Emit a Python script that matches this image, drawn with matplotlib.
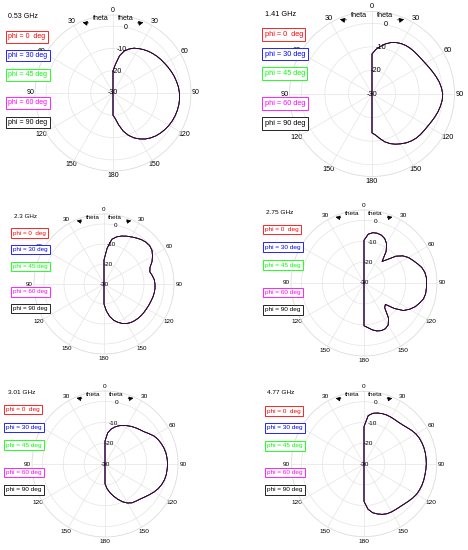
import numpy as np
import matplotlib.pyplot as plt

plt.rcParams['font.family'] = ['Liberation Sans', 'DejaVu Sans']
plt.rcParams['axes.unicode_minus'] = False

W, H = 468, 550
RMIN, RMAX = -30, 5
R_TICKS = [-30, -20, -10, 0]

# pattern sampled every 5 degrees of theta, 0..180 (dB)
THETA = np.arange(0, 181, 5)

FREQS = ["0.53 GHz", "1.41 GHz", "2.3 GHz", "2.75 GHz", "3.01 GHz", "4.77 GHz"]
PHI_LABELS = ["phi = 0  deg", "phi = 30 deg", "phi = 45 deg", "phi = 60 deg", "phi = 90 deg"]
PHI_COLORS = ["#ff0000", "#0000ff", "#00ff00", "#ff00ff", "#000000"]

gain_053 = [-20, -17, -13, -10.5, -9, -7.8, -7, -6.2, -5.5, -4.9, -4.3, -3.8, -3.3,
            -2.7, -2.1, -1.5, -1.0, -0.5, -0.2, 0, 0, -0.1, -0.3, -0.6, -1.0, -1.5,
            -2.1, -2.8, -3.7, -4.8, -6.2, -7.8, -9.8, -12.3, -15.5, -18.5, -20]
gain_141 = [-13, -11, -9.5, -8, -6.8, -5.9, -5.3, -4.9, -4.7, -4.6, -4.5, -4.3, -3.9,
            -3.3, -2.6, -1.8, -1.0, -0.4, 0, -0.1, -0.5, -1.0, -1.6, -2.2, -2.7, -3.0,
            -3.2, -3.5, -4.0, -4.7, -5.6, -6.5, -7.6, -9.0, -10.8, -12.5, -13.5]
gain_230 = [-18, -12, -7.3, -5.6, -4.5, -3.6, -2.8, -1.9, -1.0, -0.4, -0.2, -0.7, -2.0,
            -3.5, -5.5, -6.3, -5.5, -4.8, -4.5, -4.4, -4.5, -4.7, -5.0, -5.2, -5.4, -5.5,
            -5.6, -5.8, -6.1, -6.5, -7.2, -8.2, -9.6, -11.2, -13.5, -16.5, -20]
gain_275 = [-9.5, -6.5, -5.5, -5.3, -5.6, -6.5, -8.3, -11.5, -16.5, -14, -10, -7.3, -5.5,
            -4.2, -2.8, -1.3, -0.4, 0, 0, 0, 0, -0.5, -1.7, -3, -4.8, -7,
            -11, -15.5, -14.6, -9.5, -6.8, -5.8, -5.7, -6.2, -7.2, -8.5, -9.5]
gain_301 = [-19, -15, -13, -11.6, -10.5, -9.6, -8.8, -8, -7.3, -6.6, -5.8, -4.5, -3.0,
            -2.0, -1.3, -0.7, -0.3, -0.1, 0, -0.1, -0.2, -0.5, -1.1, -1.9, -3.0, -4.2,
            -5.3, -6.2, -6.8, -7.3, -8.4, -10, -12, -14, -16, -18, -20.5]
gain_477 = [-12, -6.6, -5.2, -4.6, -4.2, -4.0, -4.0, -4.0, -3.9, -3.5, -2.8, -1.9, -1.1,
            -0.6, -0.3, -0.1, 0, 0, 0, -0.1, -0.2, -0.2, -0.3, -0.5, -0.8, -1.4,
            -2.1, -2.7, -3.1, -3.3, -3.4, -3.6, -4.2, -5.1, -6.2, -8.2, -12]
GAINS = [gain_053, gain_141, gain_230, gain_275, gain_301, gain_477]

ANGLE_LABELS = ["0", "30", "60", "90", "120", "150", "180", "150", "120", "90", "60", "30"]

# layout, in pixels of the 468x550 picture
CENTERS = [(113, 93), (372, 94), (104, 284), (364, 283), (105, 464), (364, 464)]
RADII = [78, 82.5, 70, 73, 73, 72.7]
TITLE_XY = [(8, 16), (265, 14), (14, 216), (266, 212), (8, 392), (267, 393)]
BOX_X = [6, 262, 11, 263, 4, 265]
BOX_Y = [[37, 55.5, 75, 103, 122.5],
         [34.5, 54, 73.5, 103.5, 123.5],
         [233, 249.5, 266.5, 292, 308.5],
         [229.5, 247, 265, 292.5, 310],
         [409.5, 427.5, 445, 472.5, 490],
         [411, 428, 446, 472.5, 490]]

fig = plt.figure(figsize=(W / 100, H / 100), dpi=100)


def fx(x):
    return x / W


def fy(y):
    return 1 - y / H


for i in range(6):
    cx, cy = CENTERS[i]
    R = RADII[i]
    s = R / 78
    fs = 5.0 * s
    ax = fig.add_axes([fx(cx - R), fy(cy + R), 2 * R / W, 2 * R / H], projection='polar')
    ax.set_theta_zero_location('N')
    ax.set_theta_direction(-1)
    ax.set_rlim(RMIN, RMAX)
    ax.set_rticks(R_TICKS)
    ax.set_yticklabels([])
    ax.set_thetagrids(np.arange(0, 360, 30), labels=ANGLE_LABELS, fontsize=fs)
    ax.tick_params(axis='x', pad=-3.5, length=0)
    ax.grid(color='#e4e4e4', lw=0.5)
    ax.spines['polar'].set_color('#dcdcdc')
    ax.spines['polar'].set_linewidth(0.6)

    # radial labels, centred, just clockwise of the 0 spoke
    for rt in R_TICKS:
        ax.text(np.deg2rad(11), rt, str(rt), fontsize=fs, ha='center', va='center')

    th = np.deg2rad(np.r_[0, THETA, 180])
    r = np.r_[RMIN, GAINS[i], RMIN]
    for col in PHI_COLORS:
        ax.plot(th, r, color=col, lw=0.55)

    # theta arrows at the top
    for sgn in (-1, 1):
        ax.annotate("theta", xy=(0.5 + sgn * 0.195, 0.952), xytext=(0.5 + sgn * 0.08, 0.975),
                    xycoords='axes fraction', ha='center', va='center', fontsize=fs,
                    annotation_clip=False,
                    arrowprops=dict(arrowstyle='-|>', color='k', lw=0.5, mutation_scale=7 * s,
                                    shrinkA=1, shrinkB=0,
                                    connectionstyle='arc3,rad=%.2f' % (0.2 * sgn)))

    fig.text(fx(TITLE_XY[i][0]), fy(TITLE_XY[i][1]), FREQS[i], fontsize=fs,
             ha='left', va='center')
    pad = 0.35
    pad_px = pad * fs * 100 / 72
    for lab, col, by in zip(PHI_LABELS, PHI_COLORS, BOX_Y[i]):
        fig.text(fx(BOX_X[i] + pad_px), fy(by), lab, color=col, fontsize=fs,
                 ha='left', va='center',
                 bbox=dict(boxstyle='square,pad=%.2f' % pad, fc='white', ec=col, lw=0.6))

fig.savefig('out.png', dpi=100)
